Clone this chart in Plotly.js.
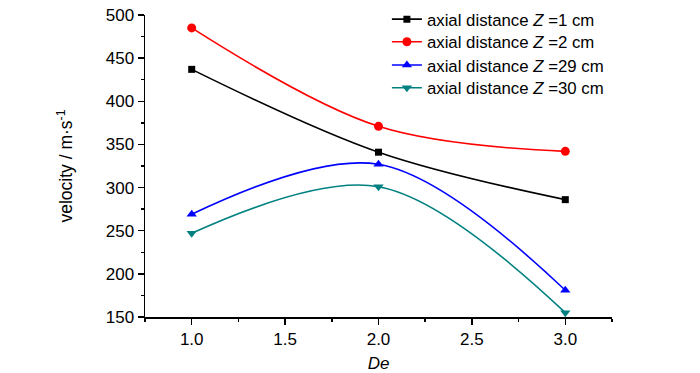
<!DOCTYPE html>
<html>
<head>
<meta charset="utf-8">
<script src="https://cdn.plot.ly/plotly-3.0.1.min.js"></script>
<style>html,body{margin:0;padding:0;background:#fff}#chart{width:700px;height:373px}</style>
</head>
<body>
<div id="chart"></div>
<script>
var deValues = [1.0, 2.0, 3.0];
var seriesNames = ["axial distance <i>Z</i> =1 cm", "axial distance <i>Z</i> =2 cm", "axial distance <i>Z</i> =29 cm", "axial distance <i>Z</i> =30 cm"];
var velZ1 = [437, 341, 286];
var velZ2 = [485, 371, 342];
var velZ29 = [269, 327, 181];
var velZ30 = [247, 301, 155];
var xTickVals = [1.0, 1.5, 2.0, 2.5, 3.0];
var xTickText = ["1.0", "1.5", "2.0", "2.5", "3.0"];
var colors = ["#000000", "#ff0000", "#0000ff", "#008080"];
var symbols = ["square", "circle", "triangle-up", "triangle-down"];
var allSeries = [velZ1, velZ2, velZ29, velZ30];
var legendIds = ["legend", "legend2", "legend3", "legend4"];
var legendY = [0.986, 0.911, 0.834, 0.759];

var traces = allSeries.map(function(v, i) {
  return {
    x: deValues, y: v, name: seriesNames[i], type: "scatter", mode: "lines+markers",
    legend: legendIds[i],
    line: {color: colors[i], width: 1.6, shape: "spline", smoothing: 1.0},
    marker: {symbol: symbols[i], color: colors[i], size: i === 0 ? 7 : 9}
  };
});

var fam = "Liberation Sans, Arial, sans-serif";
var layout = {
  width: 700, height: 373,
  margin: {l: 145, r: 88, t: 15, b: 56, autoexpand: false},
  paper_bgcolor: "#fff", plot_bgcolor: "#fff",
  font: {family: fam, color: "#000"},
  showlegend: true,
  xaxis: {
    range: [0.75, 3.25], tickmode: "array", tickvals: xTickVals, ticktext: xTickText,
    showgrid: false, zeroline: false, showline: true, linecolor: "#000", linewidth: 1.5,
    ticks: "outside", ticklen: 6, tickwidth: 1.5, tickcolor: "#000",
    minor: {dtick: 0.25, tick0: 0.75, ticks: "outside", ticklen: 3, tickwidth: 1.5, tickcolor: "#000", showgrid: false},
    tickfont: {family: fam, size: 17, color: "#000"},
    title: {text: "<i>De</i>", font: {family: fam, size: 17, color: "#000"}, standoff: 9}
  },
  yaxis: {
    range: [150, 500], tickmode: "linear", tick0: 150, dtick: 50,
    showgrid: false, zeroline: false, showline: true, linecolor: "#000", linewidth: 1.5,
    ticks: "outside", ticklen: 6, tickwidth: 1.5, tickcolor: "#000",
    minor: {dtick: 25, ticks: "outside", ticklen: 3, tickwidth: 1.5, tickcolor: "#000", showgrid: false},
    tickfont: {family: fam, size: 17, color: "#000"},
    title: {text: "velocity / m·s<sup>-1</sup>", font: {family: fam, size: 17.5, color: "#000"}, standoff: 28}
  }
};
legendIds.forEach(function(id, i) {
  layout[id] = {x: 0.518, y: legendY[i], xanchor: "left", yanchor: "middle", bgcolor: "rgba(0,0,0,0)",
                borderwidth: 0, font: {family: fam, size: 16.8, color: "#000"}};
});
Plotly.newPlot("chart", traces, layout, {displayModeBar: false, staticPlot: true});
</script>
</body>
</html>
